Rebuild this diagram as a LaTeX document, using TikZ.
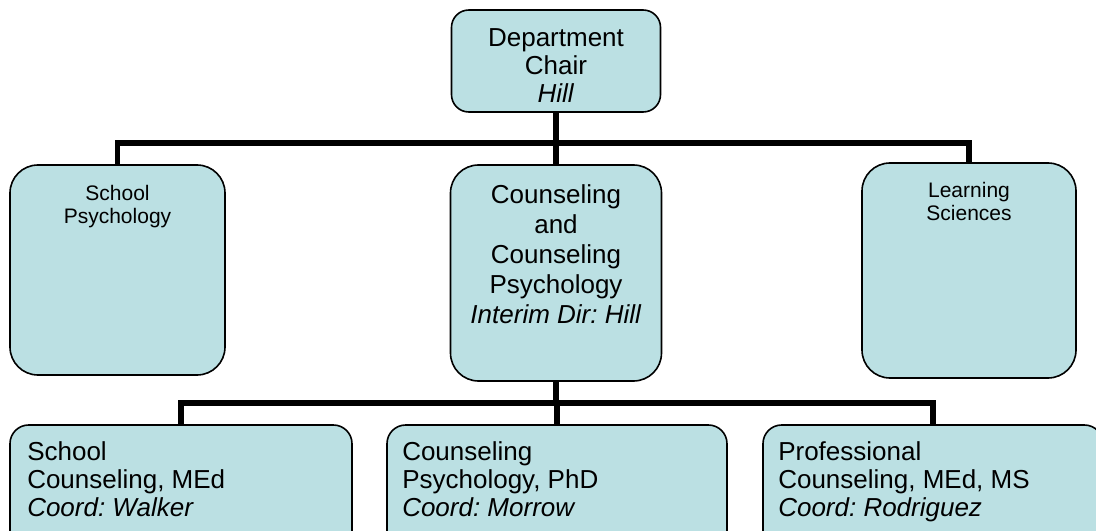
\documentclass[tikz,border=0pt]{standalone}
\usepackage{fontspec}
\setmainfont{Liberation Sans}
\usepackage{tikz}
\frenchspacing
\definecolor{boxfill}{RGB}{187,224,227}
\newcommand{\bigtext}{\fontsize{19.5pt}{21pt}\selectfont}
\newcommand{\midtext}{\fontsize{19.5pt}{22.5pt}\selectfont}
\newcommand{\smalltext}{\fontsize{15.75pt}{17.5pt}\selectfont}

\begin{document}
\begin{tikzpicture}[x=0.75pt,y=-0.75pt,
	unit/.style={draw=black,fill=boxfill,line width=1.2pt,inner sep=0pt},
	topunit/.style={unit,rounded corners=13pt,minimum width=156.75pt,minimum height=76.5pt},
	midunit/.style={unit,rounded corners=21pt,minimum width=160.5pt,minimum height=160pt},
	lowunit/.style={unit,rounded corners=14pt,minimum width=255pt,minimum height=101.25pt},
	label/.style={inner sep=0pt,align=center,anchor=north},
	lowlabel/.style={inner sep=0pt,align=left,anchor=north west,font=\bigtext},
	link/.style={line width=4pt}]
		\useasboundingbox (0,0) rectangle (1096,531);
		\clip (0,0) rectangle (1096,531);
		\node[topunit] (chair) at (556,61) {};
		\node[midunit,minimum width=161.25pt,minimum height=157.5pt] (psych) at (117.5,270) {};
		\node[midunit,minimum width=158.25pt,minimum height=162pt] (ccp) at (556,273) {};
		\node[midunit,minimum width=160.5pt,minimum height=161.25pt] (learn) at (969,270.5) {};
		\node[lowunit,minimum width=256.5pt] (sc) at (181,492.5) {};
		\node[lowunit] (cp) at (557,492.5) {};
		\node[lowunit] (pc) at (933,492.5) {};
		\coordinate (bartop) at (556,143);
		\coordinate (barlow) at (556,403);
		\draw[link] (chair.south) -- (chair.south |- bartop);
		\draw[link] (psych.north) -- (psych.north |- bartop) -- (learn.north |- bartop) -- (learn.north);
		\draw[link] (ccp.north) -- (ccp.north |- bartop);
		\draw[link] (ccp.south) -- (ccp.south |- barlow);
		\draw[link] (sc.north) -- (sc.north |- barlow) -- (pc.north |- barlow) -- (pc.north);
		\draw[link] (cp.north) -- (cp.north |- barlow);
		\node[label,font=\bigtext] (chairtext) at (556,28) {Department\\Chair\\\textit{Hill}};
		\node[label,font=\smalltext] (psychtext) at (117.5,185) {School\\Psychology};
		\node[label,font=\midtext] (ccptext) at (556,184) {Counseling\\and\\Counseling\\Psychology\\\textit{Interim Dir: Hill}};
		\node[label,font=\smalltext] (learntext) at (969,182) {Learning\\Sciences};
		\node[lowlabel] (sctext) at (27,441) {School\\Counseling, MEd\\\textit{Coord: Walker}};
		\node[lowlabel] (cptext) at (402,441) {Counseling\\Psychology, PhD\\\textit{Coord: Morrow}};
		\node[lowlabel] (pctext) at (778,441) {Professional\\Counseling, MEd, MS\\\textit{Coord: Rodriguez}};
	\end{tikzpicture}
\end{document}
